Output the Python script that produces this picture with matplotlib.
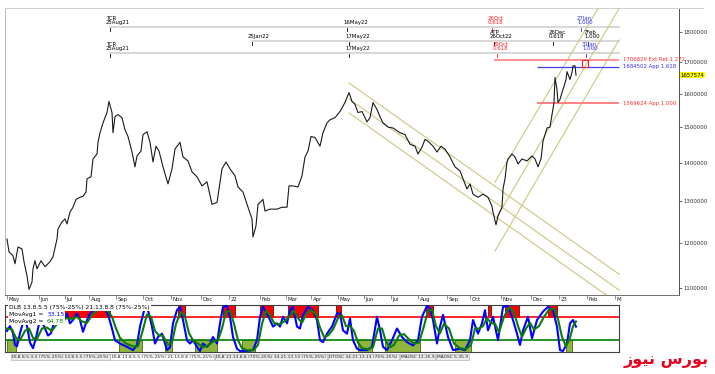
import matplotlib
matplotlib.use("Agg")
import matplotlib.pyplot as plt
import matplotlib.transforms as mtransforms
from matplotlib.patches import Rectangle
from matplotlib.lines import Line2D
from matplotlib.ticker import FixedLocator, NullLocator

plt.rcParams['font.family'] = ['Liberation Sans Narrow', 'DejaVu Sans']

# ---- price series (bar index, index value)
price_bar = [2, 4, 8, 10, 13, 17, 19, 22, 24, 27, 28, 30, 32, 36, 40, 45, 48, 52, 53, 57,
             60, 62, 65, 68, 71, 75, 78, 81, 82, 86, 88, 92, 93, 95, 98, 102, 104, 107, 108, 110,
             113, 117, 120, 123, 127, 130, 132, 136, 138, 142, 145, 148, 151, 154, 158, 163, 167, 170, 175, 178,
             183, 187, 192, 197, 202, 207, 212, 214, 217, 221, 225, 230, 233, 238, 243, 247, 248, 251, 253, 258,
             260, 265, 272, 277, 282, 284, 288, 293, 297, 300, 303, 306, 310, 315, 318, 322, 325, 330, 335, 340,
             344, 347, 350, 353, 357, 362, 365, 368, 372, 375, 378, 383, 388, 395, 400, 405, 410, 413, 417, 420,
             423, 428, 432, 436, 440, 445, 450, 455, 458, 462, 465, 468, 473, 478, 483, 487, 488, 491, 493, 497,
             498, 500, 502, 503, 507, 510, 513, 517, 522, 527, 530, 533, 536, 538, 542, 545, 547, 549, 550, 552,
             553, 555, 557, 559, 561, 562, 565, 567, 568, 570, 571]
price_val = [1209500, 1180000, 1171100, 1153300, 1191100, 1186700, 1157800, 1126700, 1097800, 1113300,
             1142200, 1160000, 1142200, 1160000, 1146700, 1157800, 1168900, 1209500, 1233300, 1250000,
             1257100, 1245200, 1273800, 1285700, 1305200, 1310500, 1313100, 1323700, 1357900, 1363200,
             1410800, 1424300, 1456800, 1483800, 1512100, 1542400, 1575800, 1542400, 1483800, 1530300,
             1536400, 1527300, 1491900, 1473000, 1429700, 1389500, 1418900, 1432400, 1478400, 1486500,
             1456800, 1402700, 1445900, 1432400, 1389500, 1344700, 1384200, 1437800, 1456800, 1416200,
             1405400, 1376300, 1363200, 1339500, 1350000, 1292900, 1297600, 1331600, 1384200, 1402700,
             1384200, 1365800, 1336800, 1323700, 1285700, 1257100, 1214300, 1240500, 1292900, 1305200,
             1276200, 1281000, 1281000, 1285700, 1285700, 1339500, 1339500, 1336800, 1365800, 1416200,
             1432400, 1473000, 1470300, 1445900, 1483800, 1512100, 1521200, 1527300, 1545500, 1572700,
             1603100, 1575800, 1566700, 1542400, 1545500, 1515200, 1527300, 1572700, 1551500, 1530300,
             1512100, 1500000, 1497300, 1483800, 1478400, 1451300, 1445900, 1424300, 1443200, 1464900,
             1459500, 1445900, 1429700, 1445900, 1437800, 1416200, 1389500, 1378900, 1357900, 1331600,
             1344700, 1318400, 1310500, 1318400, 1310500, 1288100, 1273800, 1242900, 1264300, 1285700,
             1331600, 1357900, 1402700, 1410800, 1424300, 1416200, 1397400, 1410800, 1405400, 1418900,
             1410800, 1389500, 1410800, 1459500, 1497300, 1500000, 1536400, 1572700, 1650000, 1612500,
             1572700, 1581800, 1603100, 1621900, 1643800, 1668800, 1643800, 1665600, 1687500, 1687500,
             1657574]
last_close = 1657574

month_bar = [2, 34, 60, 84, 111, 138, 166, 196, 224, 255, 281, 306, 333, 359, 386, 413, 442, 465,
             496, 526, 554, 582, 610]
month_lbl = ['May', 'Jun', 'Jul', 'Aug', 'Sep', 'Oct', 'Nov', 'Dec', '22', 'Feb', 'Mar', 'Apr',
             'May', 'Jun', 'Jul', 'Aug', 'Sep', 'Oct', 'Nov', 'Dec', '23', 'Feb', 'M']
price_ticks = [1100000, 1200000, 1300000, 1400000, 1500000, 1600000, 1700000, 1800000]

# fibonacci price levels
fib_val = [1706829, 1684502, 1569624]
fib_start = [489, 532, 532]
fib_lbl = ['1706829 Ext Ret 1.272', '1684502 App 1.618', '1569624 App 1.000']
fib_line_col = ['#ff9090', '#4040ff', '#ff8080']
fib_text_col = ['#ff3030', '#3030ff', '#ff3030']

# time cycle rows: (row, bar, label, colour)
cycle_start = [105, 247, 105]
cycle_marks = [
    (0, 105, 'TCR\n25Aug21', 'black'), (0, 342, '16May22', 'black'),
    (0, 487, '26Oct\n0.618', '#ff2020'), (0, 576, '27Jan\n1.000', '#3030ff'),
    (1, 247, '25Jan22', 'black'), (1, 344, '17May22', 'black'),
    (1, 489, 'ATP\n26Oct22', 'black'), (1, 548, '26Dec\n0.618', 'black'),
    (1, 583, '7Feb\n1.000', 'black'),
    (2, 105, 'TCR\n25Aug21', 'black'), (2, 344, '17May22', 'black'),
    (2, 492, '29Oct\n0.618', '#ff2020'), (2, 581, '31Jan\n1.000', '#3030ff'),
]

# channels (two anchor points each: bars, prices)
desc_channel = [((344, 614), (1632700, 1130500)),
                ((344, 614), (1583200, 1096500)),
                ((344, 614), (1541300, 1067400))]
asc_channel = [((490, 598), (1349400, 1915000)),
               ((492, 619), (1261600, 1915000)),
               ((490, 614), (1181900, 1773400))]

# ---- oscillator panel
blue_bar = [2, 5, 8, 10, 12, 15, 19, 22, 25, 28, 31, 35, 39, 43, 46, 50, 55, 58, 62, 65,
            68, 72, 75, 78, 82, 85, 88, 92, 95, 99, 103, 107, 110, 115, 122, 128, 132, 135, 140, 143,
            147, 150, 153, 157, 162, 165, 168, 172, 175, 178, 182, 185, 188, 192, 195, 198, 202, 205, 208, 212,
            215, 218, 222, 225, 228, 232, 235, 242, 248, 252, 255, 258, 262, 265, 268, 272, 275, 278, 282, 285,
            288, 292, 295, 298, 303, 308, 312, 315, 318, 322, 327, 332, 335, 338, 342, 345, 348, 352, 355, 362,
            367, 372, 375, 378, 382, 387, 392, 397, 402, 408, 413, 417, 422, 425, 428, 432, 435, 438, 443, 448,
            455, 460, 465, 468, 473, 477, 480, 483, 488, 493, 498, 503, 508, 512, 515, 518, 523, 527, 532, 538,
            543, 548, 552, 555, 558, 562, 565, 568, 571]
blue_val = [45, 55, 40, 15, 12, 40, 70, 55, 20, 8, 30, 70, 55, 35, 40, 70, 80, 61, 82, 61,
            68, 82, 68, 43, 68, 82, 89, 96, 92, 97, 80, 50, 25, 18, 11, 4, 15, 54, 96, 89,
            54, 18, 32, 39, 4, 10, 61, 89, 96, 68, 25, 18, 25, 11, 2, 18, 11, 18, 32, 18,
            61, 96, 98, 75, 32, 7, 2, 2, 4, 25, 75, 96, 82, 68, 54, 61, 54, 75, 61, 89,
            96, 54, 50, 79, 96, 89, 68, 25, 21, 39, 54, 82, 82, 46, 39, 71, 25, 7, 4, 4,
            11, 75, 46, 11, 4, 25, 50, 32, 21, 14, 25, 75, 98, 93, 68, 18, 54, 79, 32, 4,
            7, 4, 25, 68, 39, 61, 89, 46, 75, 25, 96, 98, 68, 39, 15, 46, 75, 29, 68, 86,
            96, 89, 54, 4, 2, 18, 61, 68, 54]
green_bar = [2, 7, 11, 15, 20, 24, 28, 32, 37, 42, 47, 52, 57, 62, 67, 72, 77, 82, 87, 92,
             97, 102, 107, 111, 115, 121, 128, 133, 137, 142, 146, 150, 154, 158, 163, 167, 171, 176, 180, 184,
             188, 193, 198, 203, 208, 213, 217, 221, 225, 229, 233, 237, 243, 249, 253, 257, 261, 265, 269, 273,
             277, 281, 285, 289, 293, 297, 301, 306, 311, 315, 319, 323, 328, 333, 337, 341, 345, 349, 353, 357,
             363, 368, 373, 377, 381, 385, 389, 394, 399, 404, 409, 414, 419, 423, 427, 431, 435, 439, 444, 449,
             455, 461, 466, 470, 474, 478, 482, 486, 490, 494, 499, 504, 509, 513, 517, 521, 525, 529, 534, 539,
             544, 549, 553, 557, 561, 565, 568, 571]
green_val = [50, 48, 30, 25, 45, 50, 30, 28, 50, 52, 45, 60, 70, 72, 70, 75, 65, 62, 78, 88,
             92, 90, 75, 50, 30, 18, 12, 12, 40, 80, 75, 45, 35, 35, 15, 20, 60, 85, 75, 40,
             25, 18, 10, 14, 22, 25, 50, 85, 88, 60, 25, 8, 3, 5, 15, 60, 88, 78, 62, 58,
             62, 68, 78, 88, 72, 62, 80, 90, 80, 52, 32, 35, 48, 72, 78, 55, 55, 45, 20, 8,
             6, 10, 50, 50, 22, 10, 15, 35, 38, 27, 18, 20, 55, 88, 90, 55, 40, 60, 50, 18,
             8, 6, 15, 50, 50, 55, 72, 62, 60, 42, 75, 95, 85, 55, 32, 50, 62, 48, 55, 75,
             90, 92, 70, 32, 12, 30, 55, 65]
movavg1, movavg2 = '53.15', '64.78'
red_zones = [(55, 105), (173, 180), (218, 230), (255, 268), (283, 313), (331, 336), (421, 428),
             (483, 486), (500, 514), (543, 552)]
green_zones = [(2, 11), (114, 137), (160, 167), (190, 212), (237, 250), (353, 367), (380, 415),
               (450, 466), (561, 567)]
upper_level, lower_level = 75, 25

tabs = ['DLB 8.5.3.3 (75%-25%) 13.8.5.5 (75%-25%)', 'DLB 13.8.5.5 (75%-25%) 21.13.8.8 (75%-25%)',
        'DLB 21.13.8.8 (75%-25%) 34.21.13.13 (75%-25%)', 'DTOSC 34.21.13.13 (75%-25%)',
        'MAOSC 12.26.9', 'MAOSC 5.35.9']

W, H = 715, 374
fig = plt.figure(figsize=(W / 100, H / 100), dpi=100)
fs = 3.9

# ---------------- price panel
ax = fig.add_axes([5 / W, 1 - 295 / H, 674 / W, 287 / H])
ax.set_yscale('log')
ax.set_xlim(0, 674)
ax.set_ylim(1086000, 1886000)
ax.plot(price_bar, price_val, color='#1a1a1a', lw=0.8, zorder=5)

for xs, ys in desc_channel + asc_channel:
    ax.plot(xs, ys, color='#cdc682', lw=0.8, zorder=3)

for v, s, lbl, lc, tc in zip(fib_val, fib_start, fib_lbl, fib_line_col, fib_text_col):
    ax.hlines(v, s, 614, color=lc, lw=1.4 if lc != '#4040ff' else 0.9, zorder=4)
    ax.text(618, v, lbl, color=tc, fontsize=fs, va='center', ha='left')

# small red box between the 1.272 and 1.618 levels
ax.add_patch(Rectangle((577, fib_val[1]), 6, fib_val[0] - fib_val[1], fill=False,
                       ec='#ff2020', lw=0.8, zorder=6))

# time cycle rows
row_y = [(295 - 27) / 287, (295 - 41) / 287, (295 - 53) / 287]
trans = mtransforms.blended_transform_factory(ax.transData, ax.transAxes)
for r, s in enumerate(cycle_start):
    ax.plot([s, 614], [row_y[r]] * 2, color='#d4d4d4', lw=1.3, transform=trans, zorder=2)
for r, b, lbl, c in cycle_marks:
    ax.plot([b, b], [row_y[r] - 0.003, row_y[r] - 0.013], color=c, lw=0.6, transform=trans)
    ax.text(b - 4, row_y[r] + 0.006, lbl, color=c, fontsize=fs, ha='left', va='bottom',
            transform=trans, linespacing=0.9)

# axes cosmetics
ax.yaxis.set_major_locator(FixedLocator(price_ticks))
ax.yaxis.set_minor_locator(NullLocator())
ax.set_yticklabels([str(t) for t in price_ticks])
ax.yaxis.tick_right()
ax.tick_params(axis='y', labelsize=fs, length=2, width=0.5, pad=1.5, colors='#303030')
ax.set_xticks(month_bar)
ax.set_xticklabels([])
ax.tick_params(axis='x', length=3, width=0.5, colors='#606060')
for b, m in zip(month_bar, month_lbl):
    ax.text(b + 1.5, -0.008, m, fontsize=fs, ha='left', va='top', transform=trans,
            color='#202020', clip_on=False)
ax.spines['left'].set_color('#b8b8b8')
ax.spines['top'].set_color('#d0d0d0')
ax.spines['right'].set_color('#505050')
ax.spines['bottom'].set_color('#707070')
for sp in ax.spines.values():
    sp.set_linewidth(0.7)

ax.text(1.002, last_close, str(last_close), fontsize=fs, va='center', ha='left',
        transform=mtransforms.blended_transform_factory(ax.transAxes, ax.transData),
        bbox=dict(boxstyle='square,pad=0.15', fc='#ffff00', ec='none'), zorder=10)
fig.add_artist(Line2D([679 / W, 703 / W], [1 - 8 / H] * 2, color='#d0d0d0', lw=0.7))

# ---------------- oscillator panel
ox = fig.add_axes([5 / W, 1 - 352 / H, 614 / W, 47 / H])
ox.set_xlim(0, 614)
ox.set_ylim(0, 100)
ox.set_xticks([])
ox.set_yticks([])
for a, b in red_zones:
    ox.add_patch(Rectangle((a, upper_level), b - a, 100 - upper_level, fc='#ff0000',
                           ec='#3a0000', lw=0.5, zorder=1))
for a, b in green_zones:
    ox.add_patch(Rectangle((a, 0), b - a, lower_level, fc='#8fb53a', ec='#354d00',
                           lw=0.5, zorder=1))
ox.axhline(upper_level, color='#ff0000', lw=1.2, zorder=2)
ox.axhline(lower_level, color='#008000', lw=1.2, zorder=2)
ox.plot(blue_bar, blue_val, color='#0000ff', lw=1.5, zorder=3)
ox.plot(green_bar, green_val, color='#0b7d0b', lw=1.5, zorder=4)
for sp in ox.spines.values():
    sp.set_color('#404040')
    sp.set_linewidth(0.8)

wbox = dict(boxstyle='square,pad=0.2', fc='white', ec='none')
ox.text(4, 95, 'DLB 13.8.5.5 (75%-25%) 21.13.8.8 (75%-25%)', fontsize=4.3, va='center',
        ha='left', zorder=10, bbox=wbox)
ox.text(4, 80, 'MovAvg1 = ', fontsize=4.3, va='center', ha='left', zorder=10, bbox=wbox)
ox.text(42, 80, movavg1, fontsize=4.3, va='center', ha='left', color='#0000ff', zorder=10,
        bbox=wbox)
ox.text(4, 65, 'MovAvg2 = ', fontsize=4.3, va='center', ha='left', zorder=10, bbox=wbox)
ox.text(42, 65, movavg2, fontsize=4.3, va='center', ha='left', color='#0b7d0b', zorder=10,
        bbox=wbox)

# tab strip, laid out one after another
renderer = fig.canvas.get_renderer()
x_px = 12
for i, t in enumerate(tabs):
    txt = fig.text(x_px / W, 1 - 357 / H, t, fontsize=3.15, ha='left', va='center',
                   color='#202020',
                   bbox=dict(boxstyle='square,pad=0.25', fc='white' if i == 1 else '#ececec',
                             ec='#a0a0a0', lw=0.4))
    ext = txt.get_window_extent(renderer)
    x_px += ext.width + 3

# site mark (pre-shaped Persian: "بورس نیوز")
logo = '\uFEAF\uFEEE\uFEF4\uFEE7 \uFEB1\uFEAD\uFEEE\uFE91'
fig.text(666 / W, 1 - 361 / H, logo, fontsize=11.5, fontweight='bold', color='#e8001c',
         ha='center', va='center', family=['DejaVu Sans'])

fig.savefig('out.png', dpi=100)
